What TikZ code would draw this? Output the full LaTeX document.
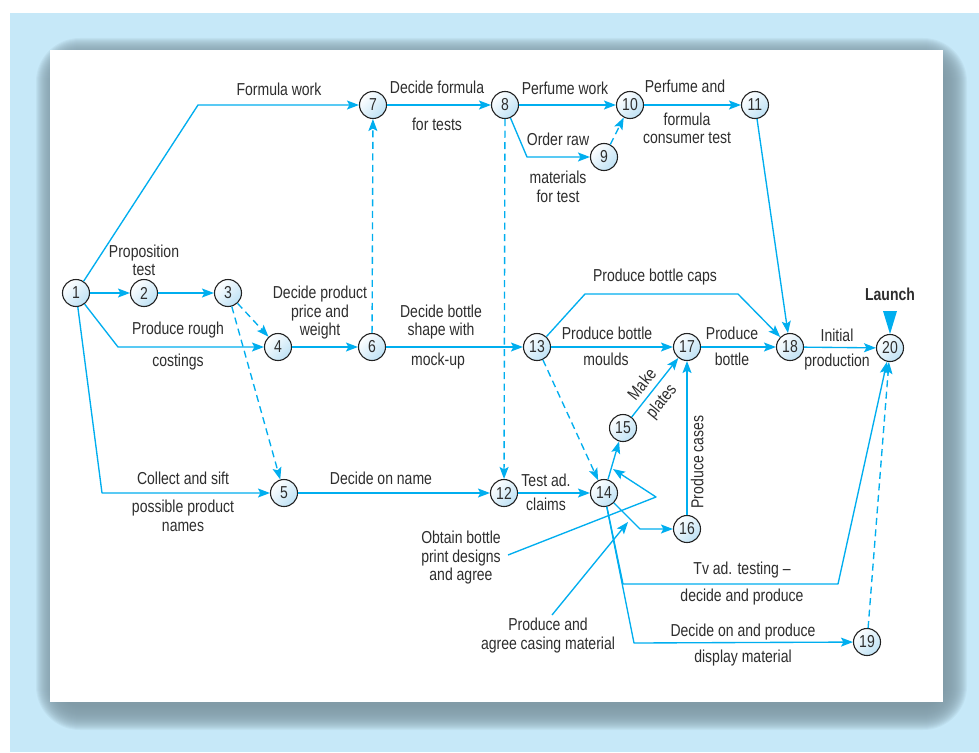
\documentclass[tikz,border=0pt]{standalone}
\usepackage{fontspec}
\setmainfont[FakeStretch=0.81]{Liberation Sans}
\usetikzlibrary{arrows.meta}

\definecolor{flow}{HTML}{00AEEF}
\definecolor{backdrop}{HTML}{C6E8F8}
\definecolor{shadowc}{HTML}{819BA7}
\definecolor{ink}{HTML}{2E2E2E}
\definecolor{rim}{HTML}{222222}
\definecolor{bubble}{HTML}{BFE2F5}

\begin{document}
\begin{tikzpicture}[x=1pt,y=-1pt,
  every node/.style={font=\fontsize{17.3}{18.5}\selectfont, text=ink},
  evt/.style={circle, draw=rim, line width=1.1pt, minimum size=27pt, inner sep=0pt,
              top color=white, bottom color=bubble, shading angle=45},
  lab/.style={inner sep=0pt, align=center},
  one/.style={inner sep=0pt, text height=12.4pt, text depth=3.6pt},
  link/.style={draw=flow, line width=1.35pt, line join=round,
               -{Stealth[length=12pt,width=9pt,inset=2.5pt]}},
  dummy/.style={link, dash pattern=on 7pt off 4.5pt}
]
% frame: backdrop, soft shadow and white sheet
\useasboundingbox (0,0) rectangle (979,752);
\fill[backdrop] (10,13) rectangle (979,752);
\foreach \i in {-12,...,12}{
  \fill[shadowc, fill opacity=0.1, rounded corners={(32+\i)*1pt}]
    ({48-\i},{50-\i}) rectangle ({955+\i},{718+\i});
}
\fill[white] (50,50) rectangle (943,702);

% events
\node[evt] (n1)  at (76,293)  {1};
\node[evt] (n2)  at (144,293) {2};
\node[evt] (n3)  at (228,293) {3};
\node[evt] (n4)  at (278,347) {4};
\node[evt] (n5)  at (284,493) {5};
\node[evt] (n6)  at (372,347) {6};
\node[evt] (n7)  at (373,105) {7};
\node[evt] (n8)  at (505,105) {8};
\node[evt] (n9)  at (604,157) {9};
\node[evt] (n10) at (630,105) {10};
\node[evt] (n11) at (755,105) {11};
\node[evt] (n12) at (504,493) {12};
\node[evt] (n13) at (537,347) {13};
\node[evt] (n14) at (604,493) {14};
\node[evt] (n15) at (623,428) {15};
\node[evt] (n16) at (687,529) {16};
\node[evt] (n17) at (687,347) {17};
\node[evt] (n18) at (790,347) {18};
\node[evt] (n19) at (867,642) {19};
\node[evt] (n20) at (890,348) {20};

% bends and free ends
\coordinate (b17) at (198,105);
\coordinate (b14) at (118,347);
\coordinate (b15) at (102,493);
\coordinate (b89) at (527,157);
\coordinate (bcapA) at (585,294);
\coordinate (bcapB) at (738,294);
\coordinate (b1416) at (640,529);
\coordinate (btvA) at (623,584);
\coordinate (btvB) at (838,584);
\coordinate (b1419) at (634,643);
\coordinate (obA) at (508,555);
\coordinate (obB) at (656,497);
\coordinate (obC) at (613,469);
\coordinate (caA) at (552,615);
\coordinate (caB) at (628,522);

% activities
\draw[link] (n1) -- (b17) -- (n7);
\draw[link] (n1) -- (n2);
\draw[link] (n2) -- (n3);
\draw[link] (n1) -- (b14) -- (n4);
\draw[link] (n1) -- (b15) -- (n5);
\draw[link] (n4) -- (n6);
\draw[link] (n6) -- (n13);
\draw[link] (n7) -- (n8);
\draw[link] (n8) -- (n10);
\draw[link] (n8) -- (b89) -- (n9);
\draw[link] (n10) -- (n11);
\draw[link] (n11) -- (n18);
\draw[link] (n5) -- (n12);
\draw[link] (n12) -- (n14);
\draw[link] (n13) -- (bcapA) -- (bcapB) -- (n18);
\draw[link] (n13) -- (n17);
\draw[link] (n14) -- (n15);
\draw[link] (n15) -- (n17);
\draw[link] (n16) -- (n17);
\draw[link] (n14) -- (b1416) -- (n16);
\draw[link] (n17) -- (n18);
\draw[link] (n18) -- (n20);
\draw[link] (n14) -- (btvA) -- (btvB) -- (n20);
\draw[link] (n14) -- (b1419) -- (n19);
\draw[link] (obA) -- (obB) -- (obC);
\draw[link] (caA) -- (caB);

% dummy activities
\draw[dummy] (n3) -- (n4);
\draw[dummy] (n3) -- (n5);
\draw[dummy] (n6) -- (n7);
\draw[dummy] (n8) -- (n12);
\draw[dummy] (n9) -- (n10);
\draw[dummy] (n13) -- (n14);
\draw[dummy] (n19) -- (n20);

% launch marker
\node[one, font=\fontsize{17.3}{18.5}\selectfont\bfseries] (launch) at (890,296) {Launch};
\fill[flow] (883,311) -- (897,311) -- (890,334) -- cycle;

% activity labels
\node[one] (lFormula) at (279,91) {Formula work};
\node[one] (lDecF) at (437,89) {Decide formula};
\node[one] (lTests) at (437,126) {for tests};
\node[one] (lPerf) at (565,90) {Perfume work};
\node[one] (lPerfAnd) at (685,88) {Perfume and};
\node[lab] (lCons) at (687,128.5) {formula\\consumer test};
\node[one] (lOrder) at (558,141) {Order raw};
\node[lab] (lMat) at (558,187) {materials\\for test};
\node[lab] (lProp) at (144,260.5) {Proposition\\test};
\node[lab] (lPrice) at (320,313) {Decide product\\price and\\weight};
\node[lab] (lShape) at (441,322) {Decide bottle\\shape with};
\node[one] (lMock) at (438,361) {mock-up};
\node[one] (lRough) at (178,330) {Produce rough};
\node[one] (lCost) at (178,362) {costings};
\node[one] (lCaps) at (655,277) {Produce bottle caps};
\node[one] (lMould) at (607,335) {Produce bottle};
\node[one] (lMould2) at (606,361) {moulds};
\node[one] (lProd) at (732,335) {Produce};
\node[one] (lBot) at (732,361) {bottle};
\node[one] (lInit) at (837,337) {Initial};
\node[one] (lInit2) at (837,362) {production};
\node[one, rotate=51] (lMake) at (643,385) {Make};
\node[one, rotate=51] (lPlates) at (662,402) {plates};
\node[one, rotate=90] (lCases) at (699,462) {Produce cases};
\node[one] (lCollect) at (183,480) {Collect and sift};
\node[lab] (lNames) at (183,516) {possible product\\names};
\node[one] (lName) at (381,480) {Decide on name};
\node[one] (lTest) at (546,482) {Test ad.};
\node[one] (lClaims) at (546,506) {claims};
\node[lab] (lObtain) at (461,558) {Obtain bottle\\print designs\\and agree};
\node[lab] (lCasing) at (548,635.5) {Produce and\\agree casing material};
\node[one] (lTv) at (742,570) {Tv ad. testing –};
\node[one] (lTv2) at (742,597) {decide and produce};
\node[one] (lDisp) at (743,632) {Decide on and produce};
\node[one] (lDisp2) at (743,658) {display material};
\end{tikzpicture}
\end{document}
